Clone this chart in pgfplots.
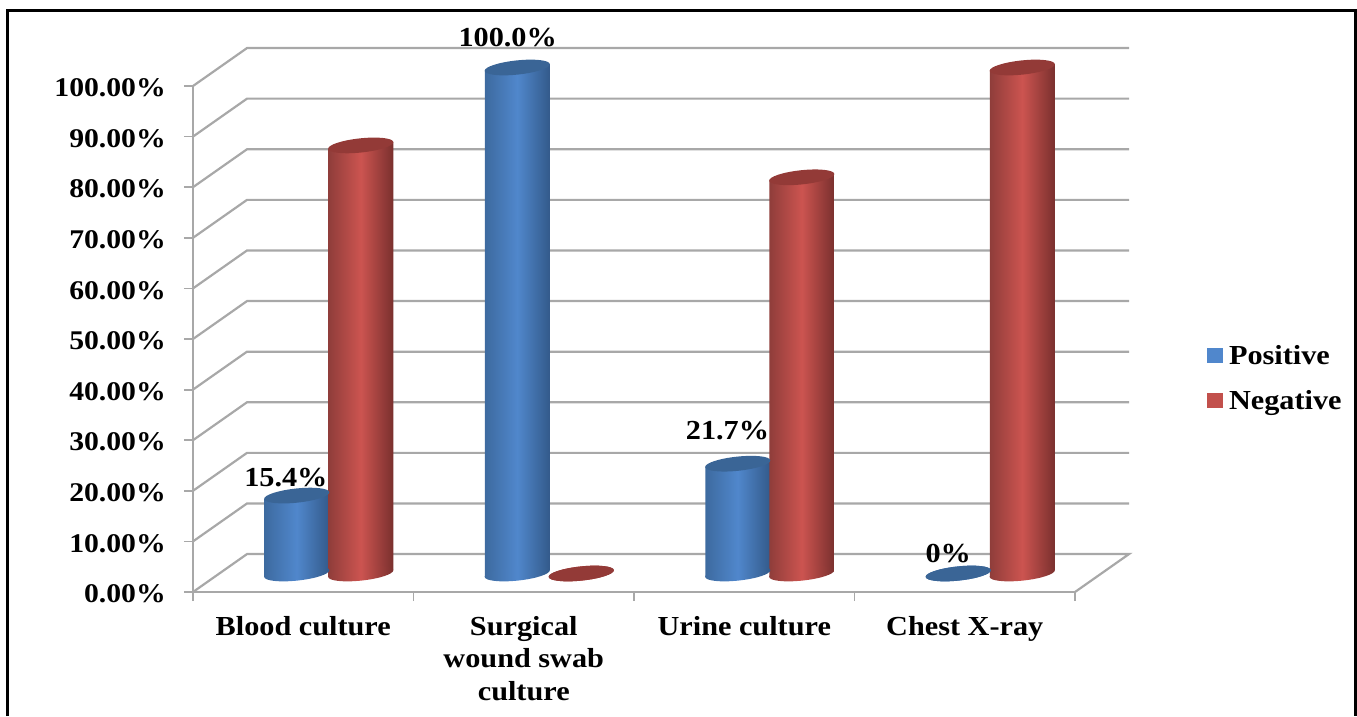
\documentclass[border=0pt]{standalone}
\usepackage{fontspec}
\setmainfont{Liberation Serif}[FakeStretch=1.1]
\usepackage{pgfplots}
\usepackage{pgfplotstable}
\usetikzlibrary{shapes.geometric}
\pgfplotsset{compat=1.18}
\definecolor{gridc}{HTML}{A8A8A8}
\definecolor{blueL}{HTML}{5087CC}
\definecolor{blueA}{HTML}{3D6A9F}
\definecolor{blueD}{HTML}{335A8A}
\definecolor{blueT}{HTML}{3A6596}
\definecolor{redL}{HTML}{CC5450}
\definecolor{redA}{HTML}{8F3D3A}
\definecolor{redD}{HTML}{7A302E}
\definecolor{redT}{HTML}{933A37}
\pgfplotstableread{
x pos neg
0.5 15.4 84.6
1.5 100 0
2.5 21.7 78.3
3.5 0 100
}\data
% cylinder body: left x, right x, value, left colour, right colour, light colour, shift in pt
\newcommand\cylbody[7]{%
  \pgfmathsetmacro\vl{#3-0.67}\pgfmathsetmacro\vr{#3+0.67}%
  \addplot[forget plot,draw=none,no markers,left color=#4,right color=#5,middle color=#6,shift={(#7pt,18.5pt)}] coordinates {(#1,-0.67)(#1,\vl)(#2,\vr)(#2,0.67)} -- cycle;}
\tikzset{capnode/.style={ellipse,inner sep=0pt,minimum width=65.5pt,minimum height=14.2pt,rotate=6,anchor=center}}
\newcommand\lbl{\fontsize{27.5}{30}\selectfont\bfseries}
\begin{document}
\begin{tikzpicture}[x=1pt,y=1pt]
\useasboundingbox (0,0) rectangle (1357,716);
\begin{axis}[
  at={(193pt,124pt)},anchor=south west,
  scale only axis,width=882pt,height=506pt,
  xmin=0,xmax=4,ymin=0,ymax=100,clip=false,
  axis x line*=bottom,axis y line*=left,
  axis line style={draw=gridc,line width=2.2pt,-},
  tick align=outside,
  major tick length=9pt,minor tick length=9pt,
  ytick={0,10,...,100},
  yticklabels={0.00\%,10.00\%,20.00\%,30.00\%,40.00\%,50.00\%,60.00\%,70.00\%,80.00\%,90.00\%,100.00\%},
  y tick style={draw=gridc,line width=1.8pt},
  yticklabel style={font=\fontsize{27}{30}\selectfont\bfseries,anchor=east,xshift=-18pt,inner sep=0pt,yshift=-2pt},
  xtick={0.5,1.5,2.5,3.5},
  xticklabels={Blood culture,{Surgical\\wound swab\\culture},Urine culture,Chest X-ray},
  minor xtick={0,1,2,3,4},
  major x tick style={draw=none},
  minor x tick style={draw=gridc,line width=1.8pt},
  xticklabel style={font=\fontsize{27.5}{32.5}\selectfont\bfseries,align=center,anchor=north,inner sep=0pt,yshift=-15pt},
  unbounded coords=jump,
  legend style={at={(1.1495,0.423)},anchor=west,draw=none,fill=none,inner sep=0pt,
    font=\fontsize{27.5}{30}\selectfont\bfseries,row sep=24pt,column sep=6pt,
    nodes={inner sep=0pt,anchor=west}},
  legend cell align=left,
  legend image code/.code={\fill[draw=none,#1] (0pt,-7.5pt) rectangle (16pt,7.5pt);},
]
% walls
\addplot[forget plot,draw=gridc,line width=2.2pt,no markers] coordinates {
(0,0)(0.245,7.5)(4.245,7.5)(4,0)(nan,nan)
(0,10)(0.245,17.5)(4.245,17.5)(nan,nan)
(0,20)(0.245,27.5)(4.245,27.5)(nan,nan)
(0,30)(0.245,37.5)(4.245,37.5)(nan,nan)
(0,40)(0.245,47.5)(4.245,47.5)(nan,nan)
(0,50)(0.245,57.5)(4.245,57.5)(nan,nan)
(0,60)(0.245,67.5)(4.245,67.5)(nan,nan)
(0,70)(0.245,77.5)(4.245,77.5)(nan,nan)
(0,80)(0.245,87.5)(4.245,87.5)(nan,nan)
(0,90)(0.245,97.5)(4.245,97.5)(nan,nan)
(0,100)(0.245,107.5)(4.245,107.5)
};
% Positive: base ellipses, bodies, top ellipses
\addplot[forget plot,only marks,mark=none,shift={(-6.5pt,18.5pt)},nodes near coords={},
  every node near coord/.style={capnode,left color=blueA,right color=blueD,middle color=blueL}] table[x=x,y expr=0] {\data};
\cylbody{0.3526}{0.6474}{15.4}{blueA}{blueD}{blueL}{-6.5}
\cylbody{1.3526}{1.6474}{100}{blueA}{blueD}{blueL}{-6.5}
\cylbody{2.3526}{2.6474}{21.7}{blueA}{blueD}{blueL}{-6.5}
\addplot[forget plot,only marks,mark=none,shift={(-6.5pt,18.5pt)},nodes near coords={},
  every node near coord/.style={capnode,fill=blueT}] table[x=x,y=pos] {\data};
% Negative
\addplot[forget plot,only marks,mark=none,shift={(57.5pt,18.5pt)},nodes near coords={},
  every node near coord/.style={capnode,left color=redA,right color=redD,middle color=redL}] table[x=x,y expr=0] {\data};
\cylbody{0.3526}{0.6474}{84.6}{redA}{redD}{redL}{57.5}
\cylbody{2.3526}{2.6474}{78.3}{redA}{redD}{redL}{57.5}
\cylbody{3.3526}{3.6474}{100}{redA}{redD}{redL}{57.5}
\addplot[forget plot,only marks,mark=none,shift={(57.5pt,18.5pt)},nodes near coords={},
  every node near coord/.style={capnode,fill=redT}] table[x=x,y=neg] {\data};
% data labels
\node[font=\lbl,inner sep=0pt] at (axis cs:0.4213,22.6) {15.4\%};
\node[font=\lbl,inner sep=0pt] at (axis cs:1.427,109.6) {100.0\%};
\node[font=\lbl,inner sep=0pt] at (axis cs:2.424,31.9) {21.7\%};
\node[font=\lbl,inner sep=0pt] at (axis cs:3.425,7.7) {0\%};
\addlegendimage{fill=blueL}\addlegendentry{Positive}
\addlegendimage{fill=redL!95!black}\addlegendentry{Negative}
\end{axis}
\draw[black,line width=3pt] (7,0) -- (7,705) -- (1355,705) -- (1355,0);
\end{tikzpicture}
\end{document}
